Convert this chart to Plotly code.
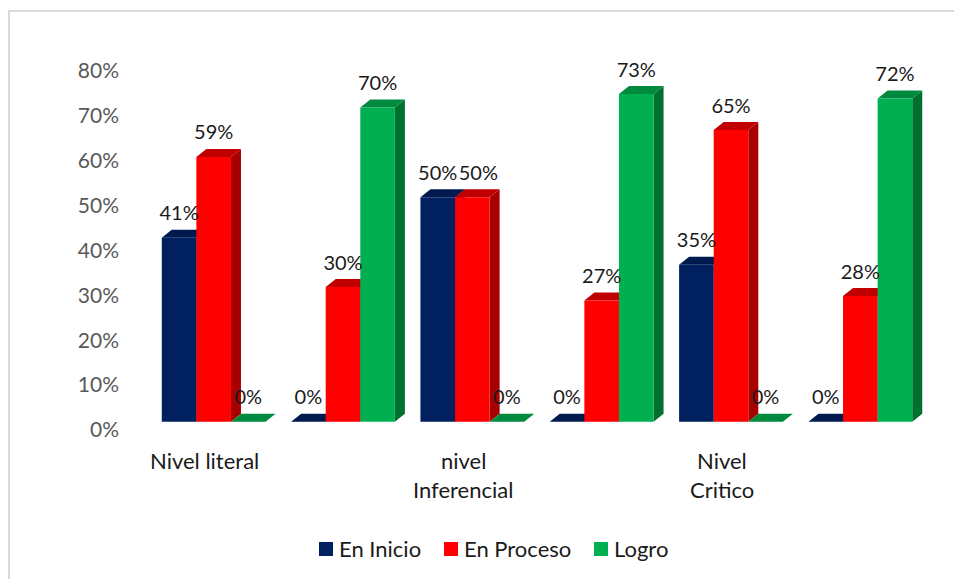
import plotly.graph_objects as go

# ---- data ----
series_names = ["En Inicio", "En Proceso", "Logro"]
en_inicio = [41, 0, 50, 0, 35, 0]
en_proceso = [59, 30, 50, 27, 65, 28]
logro = [0, 70, 0, 73, 0, 72]
category_lines = [["Nivel literal"], ["nivel", "Inferencial"], ["Nivel", "Critico"]]
category_groups = [0, 2, 4]
y_ticks = [0, 10, 20, 30, 40, 50, 60, 70, 80]

# ---- style ----
W, H = 954, 579
L, R, T, B = 149, 925, 71, 430
FONT = "Lato"
front = ["#002060", "#FF0000", "#00B050"]
side = ["#001848", "#A80000", "#00702F"]
top = ["#001A50", "#C00000", "#008A3E"]
values = [en_inicio, en_proceso, logro]
n = len(en_inicio)
unit_x = (R - L) / n
unit_y = (B - T) / 80
bar_w = 34.6 / unit_x
depth_x = 10 / unit_x
depth_y = 8 / unit_y
floor_shift = 8.3 / unit_y   # front plane sits above the tick-label zero
label_lift = 4.5 / unit_y
label_nudge = {(2, 1): 6 / unit_x}   # the second 50% label sits right of its bar's centre


def px(x):
    return (x - L) / (R - L)


def py(y):
    return (B - y) / (B - T)


fig = go.Figure()

# 3-D side and top faces, left to right, on the main axes
for i in range(n):
    for j, vals in enumerate(values):
        x0 = i + (j - 1.5) * bar_w
        x1 = x0 + bar_w
        v = vals[i] + floor_shift
        fig.add_trace(go.Scatter(
            x=[x1, x1 + depth_x, x1 + depth_x, x1, x1],
            y=[floor_shift, floor_shift + depth_y, v + depth_y, v, floor_shift],
            mode="lines", fill="toself", fillcolor=side[j], line=dict(width=0),
            hoverinfo="skip", showlegend=False, xaxis="x", yaxis="y"))
        fig.add_trace(go.Scatter(
            x=[x0, x1, x1 + depth_x, x0 + depth_x, x0],
            y=[v, v, v + depth_y, v + depth_y, v],
            mode="lines", fill="toself", fillcolor=top[j], line=dict(width=0),
            hoverinfo="skip", showlegend=False, xaxis="x", yaxis="y"))

# front faces on the overlay axes
for j, vals in enumerate(values):
    fig.add_trace(go.Bar(
        name=series_names[j], x=list(range(n)), y=vals, marker=dict(color=front[j], line=dict(width=0)),
        xaxis="x2", yaxis="y2", showlegend=False))

# data labels
for j, vals in enumerate(values):
    fig.add_trace(go.Scatter(
        x=[i + (j - 1) * bar_w + label_nudge.get((i, j), 0) for i in range(n)],
        y=[v + depth_y + label_lift for v in vals],
        text=[f"{v}%" for v in vals],
        mode="text", textposition="top center",
        textfont=dict(family=FONT, size=20, color="#1A1A1A"),
        hoverinfo="skip", showlegend=False, cliponaxis=False, xaxis="x2", yaxis="y2"))

xrange = [-0.5, n - 0.5]
fig.update_layout(
    width=W, height=H, autosize=False,
    margin=dict(l=L, r=W - R, t=T, b=H - B, pad=0),
    paper_bgcolor="white", plot_bgcolor="white",
    showlegend=False,
    barmode="group", bargap=1 - 3 * bar_w, bargroupgap=0,
    xaxis=dict(range=xrange, visible=False, fixedrange=True),
    yaxis=dict(range=[0, 80], tickvals=y_ticks, ticktext=[f"{t}%" for t in y_ticks],
               showgrid=False, zeroline=False, showline=False, ticks="", ticklabelstandoff=29,
               tickfont=dict(family=FONT, size=21, color="#595959"), fixedrange=True),
    xaxis2=dict(range=xrange, overlaying="x", visible=False, fixedrange=True),
    yaxis2=dict(range=[-floor_shift, 80 - floor_shift], overlaying="y", visible=False, fixedrange=True),
)

# category labels, one annotation per line for the wide line spacing
annotations = []
for g, lines in zip(category_groups, category_lines):
    for k, line in enumerate(lines):
        annotations.append(dict(
            x=g - 0.07, xref="x", y=py(460 + 29 * k), yref="paper", text=line, showarrow=False,
            xanchor="center", yanchor="middle",
            font=dict(family=FONT, size=22, color="#1A1A1A")))

# legend row
shapes = []
swatch_left = [319, 444, 594]
for name, color, sx in zip(series_names, front, swatch_left):
    shapes.append(dict(type="rect", xref="paper", yref="paper",
                       x0=px(sx), x1=px(sx + 14), y0=py(556), y1=py(542),
                       fillcolor=color, line=dict(width=0)))
    annotations.append(dict(
        x=px(sx + 18), xref="paper", y=py(548), yref="paper", text=name, showarrow=False,
        xanchor="left", yanchor="middle",
        font=dict(family=FONT, size=22, color="#1A1A1A")))

# chart frame (top and left edges are visible)
shapes.append(dict(type="path", xref="paper", yref="paper",
                   path=f"M {px(9)} {py(H)} L {px(9)} {py(11)} L {px(W)} {py(11)}",
                   line=dict(color="#D9D9D9", width=2)))
fig.update_layout(annotations=annotations, shapes=shapes)

fig.write_html("out.html", config={"displayModeBar": False},
               post_script="document.body.style.margin='0';")
